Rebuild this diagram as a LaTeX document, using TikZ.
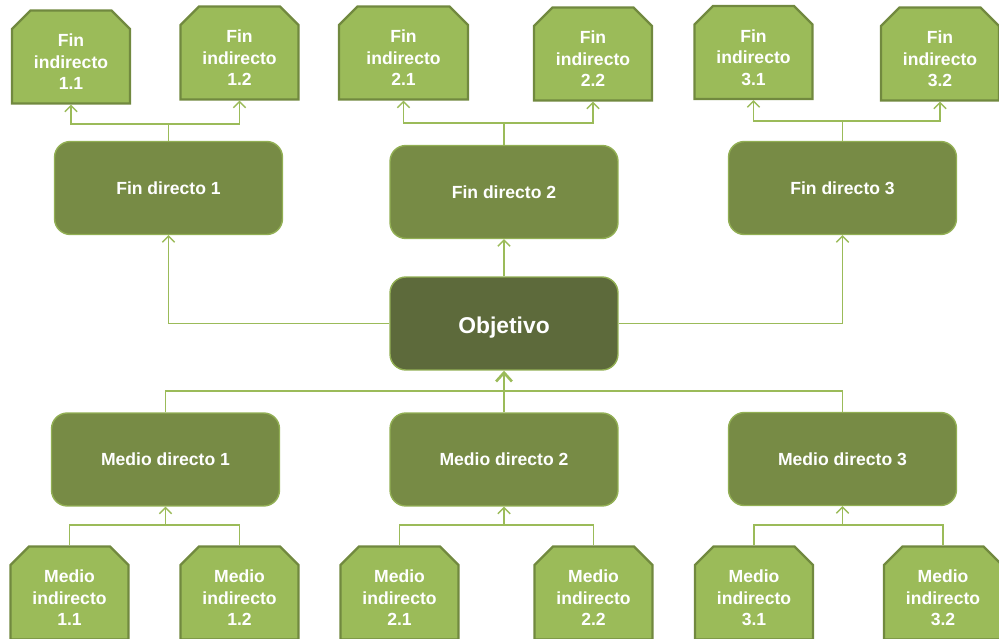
\documentclass[tikz,border=0pt]{standalone}
\usepackage{fontspec}
\setmainfont{Liberation Sans}
\usetikzlibrary{arrows.meta, shapes.misc, positioning}
\definecolor{claro}{RGB}{155,187,89}
\definecolor{borde}{RGB}{113,137,63}
\definecolor{medio}{RGB}{119,139,69}
\definecolor{oscuro}{RGB}{93,106,59}
\newcommand{\arriba}{\rule{0pt}{13pt}}

\tikzset{
  indirecto/.style={chamfered rectangle, chamfered rectangle corners={north west,north east},
    chamfered rectangle angle=45, chamfered rectangle xsep=7pt,
    draw=borde, line width=1.3pt, fill=claro, text=white, align=center,
    font=\bfseries\fontsize{10}{12.2}\selectfont,
    minimum width=2.36cm, minimum height=1.86cm, inner sep=0pt},
  directo/.style={rectangle, rounded corners=9pt, draw=claro!75!medio, line width=0.8pt,
    fill=medio, text=white, font=\bfseries\fontsize{10}{12}\selectfont,
    minimum width=4.56cm, minimum height=1.86cm, inner sep=0pt},
  objetivo/.style={directo, fill=oscuro, font=\bfseries\fontsize{13}{15}\selectfont,
    text height=11.3pt, text depth=0pt},
  linea/.style={draw=claro, line width=1pt},
  enlace/.style={linea, -{Straight Barb[length=3.5pt,width=7pt,line width=0.8pt]}},
  enlace grande/.style={draw=claro, line width=1.4pt, -{Straight Barb[length=5pt,width=9pt,line width=1.5pt]}}
}

\begin{document}
\begin{tikzpicture}[x=0.02cm, y=-0.02cm]
\useasboundingbox (0,0) rectangle (999,638);

% objetivo
\node[objetivo] (obj) at (504,323.5) {Objetivo};

% fines
\node[directo] (fd1) at (168.5,188) {Fin directo 1};
\node[directo] (fd2) at (504,192) {Fin directo 2};
\node[directo] (fd3) at (842.5,188) {Fin directo 3};

\node[indirecto] (fi11) at (71,57) {\arriba Fin\\indirecto\\1.1};
\node[indirecto] (fi12) at (239.5,53) {\arriba Fin\\indirecto\\1.2};
\node[indirecto, minimum width=2.58cm] (fi21) at (403.5,53) {\arriba Fin\\indirecto\\2.1};
\node[indirecto] (fi22) at (593,54) {\arriba Fin\\indirecto\\2.2};
\node[indirecto] (fi31) at (753.5,52.5) {\arriba Fin\\indirecto\\3.1};
\node[indirecto] (fi32) at (940,54) {\arriba Fin\\indirecto\\3.2};

% medios
\node[directo] (md1) at (165.5,459.5) {Medio directo 1};
\node[directo] (md2) at (504,459.5) {Medio directo 2};
\node[directo] (md3) at (842.5,459) {Medio directo 3};

\node[indirecto] (mi11) at (69.5,593) {\arriba Medio\\indirecto\\1.1};
\node[indirecto] (mi12) at (239.5,593) {\arriba Medio\\indirecto\\1.2};
\node[indirecto] (mi21) at (399.5,593) {\arriba Medio\\indirecto\\2.1};
\node[indirecto] (mi22) at (593.5,593) {\arriba Medio\\indirecto\\2.2};
\node[indirecto] (mi31) at (754,593) {\arriba Medio\\indirecto\\3.1};
\node[indirecto] (mi32) at (943,593) {\arriba Medio\\indirecto\\3.2};

% conexiones fines
\draw[enlace] (obj.north) -- (fd2.south);
\draw[enlace] (obj.west) -| (fd1.south);
\draw[enlace] (obj.east) -| (fd3.south);

\draw[linea] (fd1.north) -- ++(0,-17) coordinate (r1);
\draw[enlace] (r1) -| (fi11.south);
\draw[enlace] (r1) -| (fi12.south);
\draw[linea] (fd2.north) -- ++(0,-22) coordinate (r2);
\draw[enlace] (r2) -| (fi21.south);
\draw[enlace] (r2) -| (fi22.south);
\draw[linea] (fd3.north) -- ++(0,-20) coordinate (r3);
\draw[enlace] (r3) -| (fi31.south);
\draw[enlace] (r3) -| (fi32.south);

% conexiones medios
\draw[linea] (md1.north) -- ++(0,-21) -| (md3.north);
\draw[enlace grande] (md2.north) -- (obj.south);

\draw[linea] (mi11.north) -- ++(0,-20) -| (mi12.north);
\draw[enlace] (md1.south |- 0,526) -- (md1.south);
\draw[linea] (mi21.north) -- ++(0,-20) -| (mi22.north);
\draw[enlace] (md2.south |- 0,526) -- (md2.south);
\draw[linea] (mi31.north) -- ++(0,-20) -| (mi32.north);
\draw[enlace] (md3.south |- 0,526) -- (md3.south);
\end{tikzpicture}
\end{document}
